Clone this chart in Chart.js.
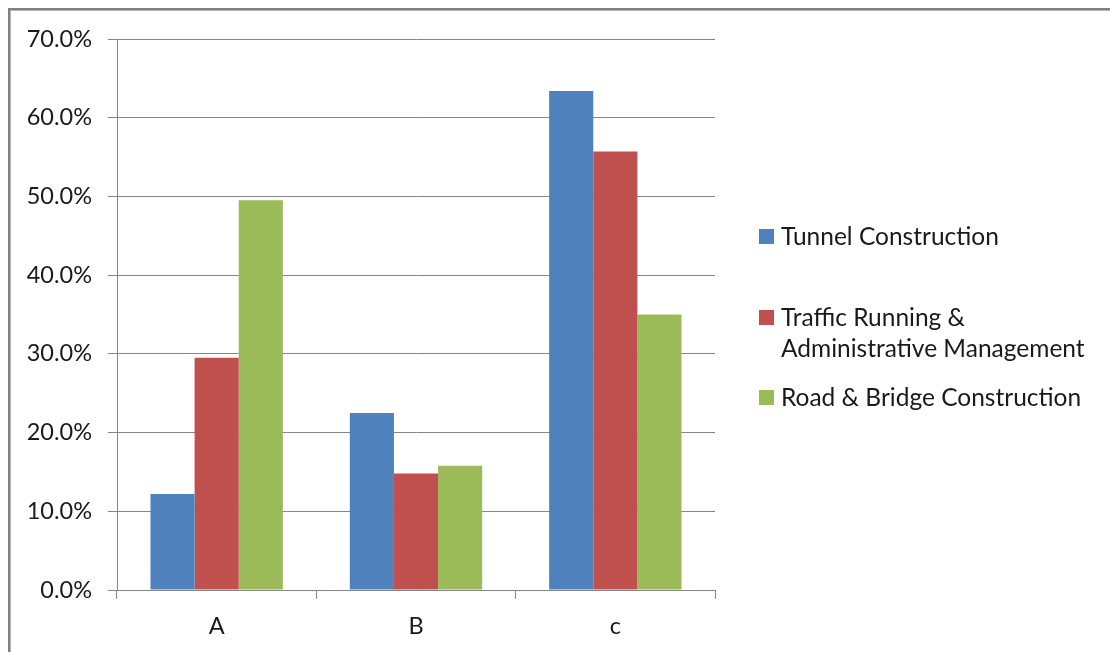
<!DOCTYPE html>
<html>
<head>
    <meta charset="UTF-8">
    <title>Construction share by group</title>
    <script src="https://cdn.jsdelivr.net/npm/chart.js"></script>
    <style>
        body {
            margin: 0;
            background: #fff;
            font-family: 'Lato', sans-serif;
            color: #1a1a1a;
        }
        .frame {
            position: absolute;
            left: 8px;
            top: 8px;
            width: 1110px;
            height: 660px;
            border-left: 2px solid #808080;
            border-top: 2px solid #808080;
            box-shadow: inset 1px 1px 0 #b4b4b4;
        }
        .wrap {
            position: absolute;
            left: 0;
            top: 0;
            width: 1110px;
            height: 652px;
        }
        .legend {
            position: absolute;
            left: 759px;
            top: 0;
        }
        .legend .item {
            position: absolute;
            left: 0;
            white-space: nowrap;
            font-size: 24.5px;
            line-height: 31px;
        }
        .legend .box {
            position: absolute;
            left: 0;
            width: 15px;
            height: 15px;
        }
        .legend .txt {
            position: absolute;
            left: 22px;
            top: 0;
        }
    </style>
</head>
<body>
    <div class="frame"></div>
    <div class="wrap">
        <canvas id="chart" width="1110" height="652"></canvas>
    </div>
    <div class="legend" id="legend"></div>

    <script>
        const categories = ['A', 'B', 'c'];
        const seriesNames = [
            'Tunnel Construction',
            ['Traffic Running &', 'Administrative Management'],
            'Road & Bridge Construction'
        ];
        const seriesColors = ['#4f81bd', '#c0504d', '#9bbb59'];
        const tunnel = [12.2, 22.5, 63.4];
        const traffic = [29.5, 14.8, 55.7];
        const roadBridge = [49.5, 15.8, 35.0];
        const yTicks = [0, 10, 20, 30, 40, 50, 60, 70];

        // legend rows: top of each text block
        const legendTops = [220, 301, 381];

        const gridColor = '#868686';
        const font = { family: 'Lato', size: 23.5 };

        const ctx = document.getElementById('chart').getContext('2d');
        const chart = new Chart(ctx, {
            type: 'bar',
            data: {
                labels: categories,
                datasets: [tunnel, traffic, roadBridge].map((d, i) => ({
                    label: Array.isArray(seriesNames[i]) ? seriesNames[i].join(' ') : seriesNames[i],
                    data: d,
                    backgroundColor: seriesColors[i],
                    borderWidth: 0,
                    categoryPercentage: 0.664,
                    barPercentage: 1.0
                }))
            },
            options: {
                responsive: false,
                animation: false,
                layout: { padding: { top: 39, right: 395, left: 0, bottom: 0 } },
                plugins: {
                    legend: { display: false },
                    tooltip: { enabled: false }
                },
                scales: {
                    x: {
                        afterFit: s => { s.height = 62; },
                        grid: {
                            offset: true,
                            drawOnChartArea: false,
                            drawTicks: true,
                            tickLength: 9,
                            color: gridColor
                        },
                        border: { color: gridColor, width: 1 },
                        ticks: { color: '#1a1a1a', font: font, padding: 13 }
                    },
                    y: {
                        min: 0,
                        max: 70,
                        afterFit: s => { s.width = 117; },
                        afterBuildTicks: s => { s.ticks = yTicks.map(v => ({ value: v })); },
                        grid: {
                            color: gridColor,
                            tickLength: 9,
                            drawTicks: true
                        },
                        border: { color: gridColor, width: 1 },
                        ticks: {
                            color: '#1a1a1a',
                            font: font,
                            padding: 16,
                            callback: v => v.toFixed(1) + '%'
                        }
                    }
                }
            }
        });

        // html legend built from the series
        const legend = document.getElementById('legend');
        seriesNames.forEach((name, i) => {
            const item = document.createElement('div');
            item.className = 'item';
            item.style.top = legendTops[i] + 'px';
            const box = document.createElement('div');
            box.className = 'box';
            box.style.background = seriesColors[i];
            box.style.top = '9px';
            const txt = document.createElement('div');
            txt.className = 'txt';
            txt.innerHTML = (Array.isArray(name) ? name : [name])
                .map(s => s.replace(/&/g, '&amp;')).join('<br>');
            item.appendChild(box);
            item.appendChild(txt);
            legend.appendChild(item);
        });
    </script>
</body>
</html>
